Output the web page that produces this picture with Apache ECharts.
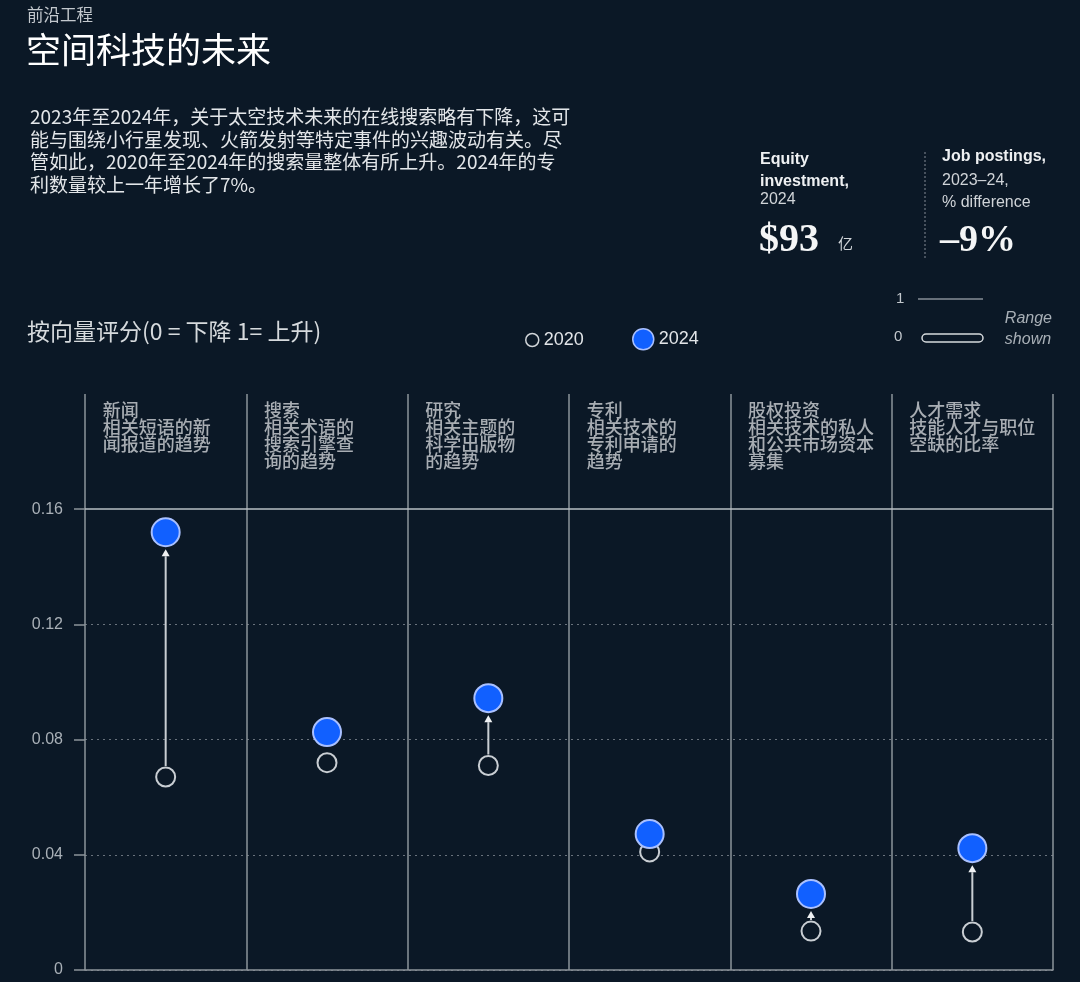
<!DOCTYPE html>
<html>
<head>
<meta charset="utf-8">
<script src="https://cdn.jsdelivr.net/npm/echarts@6/dist/echarts.min.js"></script>
<style>
html,body{margin:0;padding:0;background:#0b1826;}
#c{width:1080px;height:982px;}
</style>
</head>
<body>
<div id="c"></div>
<script>
const categoryKeys = ['新闻', '搜索', '研究', '专利', '股权投资', '人才需求'];
const categoryLabels = [
  '新闻\n相关短语的新\n闻报道的趋势',
  '搜索\n相关术语的\n搜索引擎查\n询的趋势',
  '研究\n相关主题的\n科学出版物\n的趋势',
  '专利\n相关技术的\n专利申请的\n趋势',
  '股权投资\n相关技术的私人\n和公共市场资本\n募集',
  '人才需求\n技能人才与职位\n空缺的比率'
];
const values2020 = [0.067, 0.072, 0.071, 0.041, 0.0135, 0.0132];
const values2024 = [0.152, 0.0826, 0.0944, 0.0472, 0.0264, 0.0423];
const yTicks = [0, 0.04, 0.08, 0.12, 0.16];
const yMax = 0.2;

const FONT = '"Noto Sans CJK SC", "Noto Sans", sans-serif';
const LATIN = '"Liberation Sans", "Noto Sans", sans-serif';
const SERIF = '"Liberation Serif", "DejaVu Serif", serif';
const BG = '#0b1826';

const chart = echarts.init(document.getElementById('c'));

const arrowData = categoryKeys.map((k, i) => [i, values2020[i], values2024[i]]);

const option = {
  backgroundColor: BG,
  animation: false,
  textStyle: { fontFamily: FONT },
  grid: { left: 85, right: 27, top: 394, bottom: 12, containLabel: false },
  legend: [
    {
      data: [{ name: '2020', icon: 'circle', itemStyle: { color: BG, borderColor: '#d0d4d8', borderWidth: 1.5 } }],
      left: 520, top: 326, itemWidth: 13, itemHeight: 13, itemGap: 8,
      textStyle: { color: '#e2e5e8', fontSize: 18, fontFamily: LATIN },
      selectedMode: false
    },
    {
      data: [{ name: '2024', icon: 'circle', itemStyle: { color: '#1160ff', borderColor: '#a9c0ff', borderWidth: 1.5 } }],
      left: 627, top: 323, itemWidth: 21, itemHeight: 21, itemGap: 5,
      textStyle: { color: '#e2e5e8', fontSize: 18, fontFamily: LATIN },
      selectedMode: false
    }
  ],
  xAxis: {
    type: 'category',
    data: categoryKeys,
    boundaryGap: true,
    axisLine: { show: true, lineStyle: { color: '#8d949b', width: 1.5 } },
    axisTick: { show: false },
    axisLabel: { show: false },
    splitLine: { show: true, lineStyle: { color: '#8d949b', width: 1.5, type: 'solid' } }
  },
  yAxis: {
    type: 'value',
    min: 0,
    max: yMax,
    interval: 0.04,
    axisLine: { show: false },
    axisTick: { show: true, length: 11, customValues: yTicks, lineStyle: { color: '#8d949b', width: 1.5 } },
    axisLabel: {
      color: '#a9b0b7', fontSize: 16, fontFamily: LATIN, margin: 22,
      customValues: yTicks,
      formatter: v => (Math.abs(v) < 1e-9 ? '0' : v.toFixed(2))
    },
    splitLine: { show: true, showMaxLine: false, lineStyle: { color: '#69727c', width: 1.2, type: [2, 4] } }
  },
  series: [
    {
      type: 'custom',
      name: 'arrows',
      data: arrowData,
      z: 2,
      silent: true,
      renderItem: function (params, api) {
        const i = api.value(0);
        const a = api.coord([i, api.value(1)]);
        const b = api.coord([i, api.value(2)]);
        const yStart = a[1] - 11;
        const yTip = b[1] + 17;
        const children = [];
        if (yStart - yTip >= 3) {
          const h = Math.min(7, yStart - yTip);
          children.push({
            type: 'polygon',
            shape: { points: [[a[0], yTip], [a[0] - 4, yTip + h], [a[0] + 4, yTip + h]] },
            style: { fill: '#eef0f2' }
          });
          if (yStart > yTip + h) {
            children.push({
              type: 'line',
              shape: { x1: a[0], y1: yStart, x2: a[0], y2: yTip + h },
              style: { stroke: '#c9ced3', lineWidth: 2 }
            });
          }
        }
        return { type: 'group', children: children };
      }
    },
    {
      type: 'scatter',
      name: '2020',
      data: values2020.map((v, i) => [i, v]),
      symbol: 'circle',
      symbolSize: 19,
      z: 3,
      itemStyle: { color: BG, borderColor: '#c9ced3', borderWidth: 2, opacity: 1 }
    },
    {
      type: 'scatter',
      name: '2024',
      data: values2024.map((v, i) => [i, v]),
      symbol: 'circle',
      symbolSize: 28,
      z: 4,
      itemStyle: { color: '#1160ff', borderColor: '#a9c0ff', borderWidth: 2, opacity: 1 },
      markLine: {
        silent: true,
        symbol: 'none',
        label: { show: false },
        lineStyle: { color: '#b9bfc5', type: 'solid', width: 1.5 },
        data: [{ yAxis: yTicks[4] }]
      }
    },
    {
      type: 'scatter',
      name: 'labels',
      data: categoryLabels.map((t, i) => ({ value: [i, yMax], label: { formatter: t } })),
      symbolSize: 0,
      silent: true,
      z: 5,
      label: {
        show: true,
        position: [-63, 8],
        align: 'left',
        verticalAlign: 'top',
        color: '#cfd3d7',
        fontSize: 18,
        lineHeight: 17,
        fontWeight: 500,
        fontFamily: FONT
      }
    }
  ],
  graphic: [
    { type: 'text', left: 27, top: 6, style: { text: '前沿工程', fill: '#c3c8cd', fontSize: 16.5, fontFamily: FONT } },
    { type: 'text', left: 26, top: 32, style: { text: '空间科技的未来', fill: '#ffffff', fontSize: 35, fontFamily: FONT } },
    { type: 'text', left: 30, top: 106, style: {
        text: '2023年至2024年，关于太空技术未来的在线搜索略有下降，这可\n能与围绕小行星发现、火箭发射等特定事件的兴趣波动有关。尽\n管如此，2020年至2024年的搜索量整体有所上升。2024年的专\n利数量较上一年增长了7%。',
        fill: '#e3e6e9', fontSize: 19, lineHeight: 22.5, fontFamily: FONT } },
    { type: 'text', left: 27, top: 320, style: { text: '按向量评分(0 = 下降 1= 上升)', fill: '#d6dadd', fontSize: 23, fontFamily: FONT } },

    { type: 'text', left: 760, top: 149, style: { text: 'Equity\ninvestment,', fill: '#eef0f2', fontSize: 16, fontWeight: 'bold', lineHeight: 21.5, fontFamily: LATIN } },
    { type: 'text', left: 760, top: 192, style: { text: '2024', fill: '#d0d4d8', fontSize: 16, fontFamily: LATIN } },
    { type: 'text', left: 759, top: 221, style: { text: '$93', fill: '#f4f5f6', fontSize: 40, fontWeight: 'bold', fontFamily: SERIF } },
    { type: 'text', left: 838, top: 236, style: { text: '亿', fill: '#d0d4d8', fontSize: 15, fontFamily: FONT } },
    { type: 'line', shape: { x1: 925, y1: 152, x2: 925, y2: 258 }, style: { stroke: '#6f7882', lineWidth: 1.2, lineDash: [2, 2] } },
    { type: 'text', left: 942, top: 149, style: { text: 'Job postings,', fill: '#eef0f2', fontSize: 16, fontWeight: 'bold', fontFamily: LATIN } },
    { type: 'text', left: 942, top: 170, style: { text: '2023–24,\n% difference', fill: '#d0d4d8', fontSize: 16, lineHeight: 22, fontFamily: LATIN } },
    { type: 'text', left: 940, top: 222, style: { text: '–9%', fill: '#f4f5f6', fontSize: 38, fontWeight: 'bold', fontFamily: SERIF } },

    { type: 'text', left: 896, top: 291, style: { text: '1', fill: '#c3c8cd', fontSize: 15, fontFamily: LATIN } },
    { type: 'line', shape: { x1: 918, y1: 299, x2: 983, y2: 299 }, style: { stroke: '#c3c8cd', lineWidth: 1.2 } },
    { type: 'text', left: 894, top: 329, style: { text: '0', fill: '#c3c8cd', fontSize: 15, fontFamily: LATIN } },
    { type: 'rect', shape: { x: 922, y: 334, width: 61, height: 8, r: 4 }, style: { fill: 'none', stroke: '#d6dadd', lineWidth: 1.5 } },
    { type: 'text', right: 28, top: 308, style: { text: 'Range\nshown', fill: '#a9b0b7', fontSize: 16, fontStyle: 'italic', lineHeight: 21, align: 'right', fontFamily: LATIN } }
  ]
};

chart.setOption(option);
</script>
</body>
</html>
